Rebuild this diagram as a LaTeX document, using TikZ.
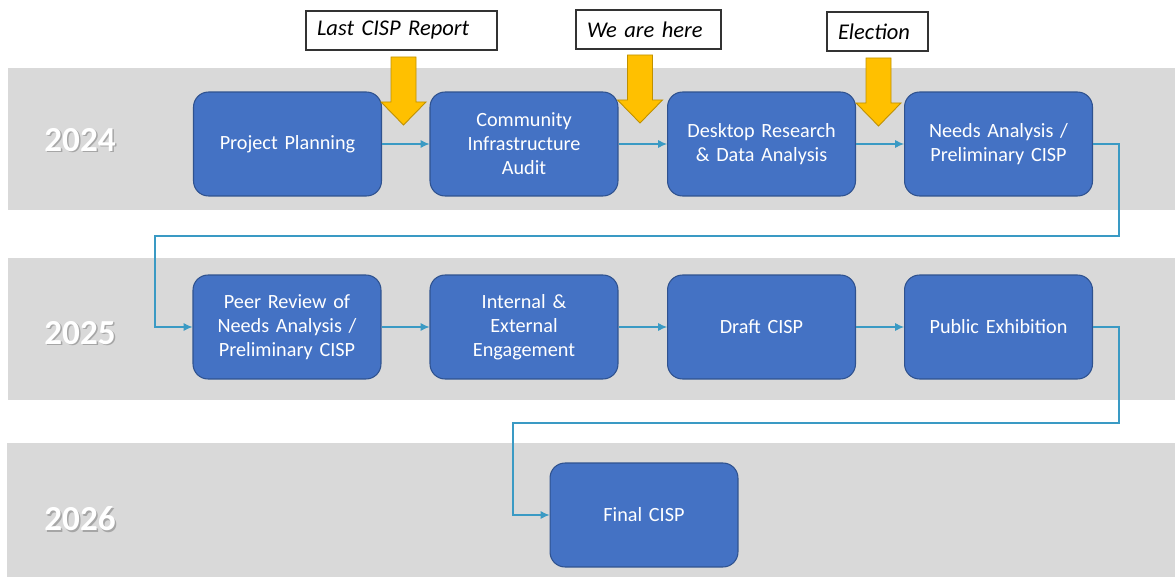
\documentclass[tikz,border=0pt]{standalone}
\usepackage{fontspec}
\setmainfont{Carlito}
\usepackage{tikz}
\usepackage{xcolor}
\usetikzlibrary{arrows.meta}

\definecolor{bandgray}{HTML}{D9D9D9}
\definecolor{stepblue}{HTML}{4472C4}
\definecolor{stepline}{HTML}{2F528F}
\definecolor{linkteal}{HTML}{3A9AC4}
\definecolor{markyellow}{HTML}{FFC000}
\definecolor{markline}{HTML}{BF9000}

\tikzset{
	band/.style={fill=bandgray},
	stepbox/.style={draw=stepline, line width=0.6pt, fill=stepblue, rounded corners=0.3cm,
		minimum width=3.76cm, minimum height=2.08cm, text width=3.6cm, align=center,
		text=white, font=\fontsize{11.5}{13.6}\selectfont, inner sep=0pt},
	link/.style={draw=linkteal, line width=0.6pt, -{Latex[length=5pt,width=4.5pt]}},
	callout/.style={draw=black!80, line width=0.6pt, fill=white, align=left,
		font=\fontsize{12.8}{14}\selectfont\itshape, inner xsep=0.22cm,
		minimum height=0.78cm},
	year/.style={text=white, font=\fontsize{20}{22}\selectfont\bfseries},
	yearshadow/.style={text=black!35, font=\fontsize{20}{22}\selectfont\bfseries},
	marker/.style={fill=markyellow, draw=markline, line width=0.5pt}
}

\begin{document}
\begin{tikzpicture}[x=0.02cm, y=-0.02cm]
\useasboundingbox (0,0) rectangle (1175,577);

% year bands
\fill[band] (8,68) rectangle (1175,210);
\fill[band] (8,258) rectangle (1175,400);
\fill[band] (7,443) rectangle (1175,577);

\foreach \yr/\yy in {2024/140, 2025/333, 2026/519}
	{
	\node[yearshadow] (s\yr) at (81.5,\yy+1.5) {\yr};
	\node[year] (y\yr) at (80,\yy) {\yr};
	}

% steps
\node[stepbox] (plan) at (287.5,144) {Project Planning};
\node[stepbox] (audit) at (524,144) {Community\\Infrastructure\\Audit};
\node[stepbox] (desk) at (761.5,144) {Desktop Research\\\& Data Analysis};
\node[stepbox] (needs) at (998.5,144) {Needs Analysis /\\Preliminary CISP};
\node[stepbox] (peer) at (287,327) {Peer Review of\\Needs Analysis /\\Preliminary CISP};
\node[stepbox] (engage) at (524,327) {Internal \&\\External\\Engagement};
\node[stepbox] (draft) at (761.5,327) {Draft CISP};
\node[stepbox] (exhib) at (998.5,327) {Public Exhibition};
\node[stepbox] (final) at (644,515) {Final CISP};

% connectors
\draw[link] (plan) -- (audit);
\draw[link] (audit) -- (desk);
\draw[link] (desk) -- (needs);
\coordinate (r1) at (1119,236);
\coordinate (l1) at (155,236);
\draw[link] (needs.east) -| (r1) -- (l1) |- (peer.west);
\draw[link] (peer) -- (engage);
\draw[link] (engage) -- (draft);
\draw[link] (draft) -- (exhib);
\coordinate (r2) at (1119,423);
\coordinate (l2) at (513,423);
\draw[link] (exhib.east) -| (r2) -- (l2) |- (final.west);

% milestone arrows
\foreach \x/\t in {403.5/57, 640/55, 878.5/58}
	{
	\draw[marker] (\x-12.5,\t) -- (\x+12.5,\t) -- (\x+12.5,\t+45) -- (\x+22.5,\t+45)
		-- (\x,\t+68) -- (\x-22.5,\t+45) -- (\x-12.5,\t+45) -- cycle;
	}

% milestone labels
\node[callout, text width=3.38cm] (lastrep) at (401.5,30.5) {Last CISP Report};
\node[callout, text width=2.46cm] (here) at (648.5,29.5) {We are here};
\node[callout, text width=1.58cm] (elect) at (877.5,31.5) {Election};
\end{tikzpicture}
\end{document}
